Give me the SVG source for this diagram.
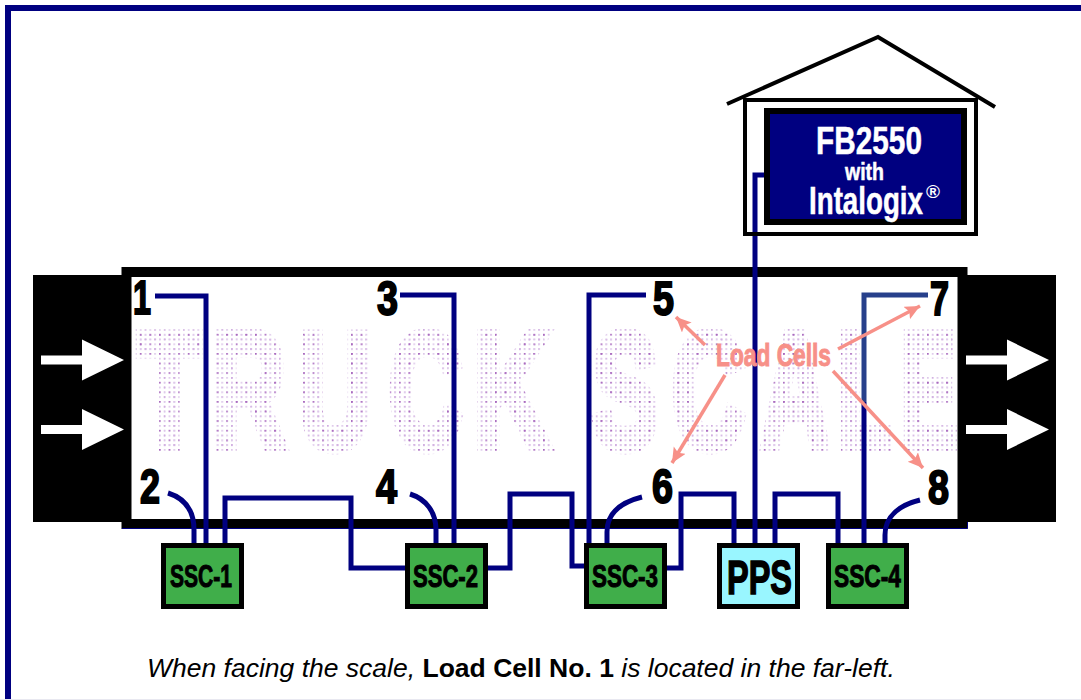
<svg xmlns="http://www.w3.org/2000/svg" width="1081" height="700" viewBox="0 0 1081 700">
<style>
.h{font-family:"Liberation Sans",Arial,sans-serif;font-weight:700}
.n{font-size:49px;fill:#000;stroke:#000;stroke-width:2px}
.s{font-size:31px;fill:#000;stroke:#000;stroke-width:1px;text-anchor:start}
.w{fill:#fff;stroke:#fff;stroke-width:.5px}
.box{fill:#40AE4A;stroke:#000;stroke-width:5}
.c{fill:none;stroke:#000080;stroke-width:5}
.a{fill:none;stroke:#F79088;stroke-width:3.500;marker-end:url(#ah)}
.ar{fill:#fff}
.tr{font-size:164px;fill:url(#dots);stroke:url(#dots);stroke-width:11px;stroke-linejoin:miter}
</style>
<defs>
<pattern id="dots" patternUnits="userSpaceOnUse" x="135" y="329" width="9.6" height="9.6">
<rect x="0" y="0" width="1.700" height="1.700" fill="#D0AEE0"/>
<rect x="4.8" y="0" width="1.700" height="1.700" fill="#DEC8EA"/>
<rect x="0" y="4.8" width="1.700" height="1.700" fill="#DEC8EA"/>
<rect x="4.8" y="4.8" width="1.700" height="1.700" fill="#A868BE"/>
</pattern>
<marker id="ah" markerUnits="userSpaceOnUse" markerWidth="18" markerHeight="16" refX="15" refY="7" orient="auto">
<path d="M0 0L15 7L0 14L3 7Z" fill="#F79088"/>
</marker>
<path id="arrow" d="M0 -4.5H41V-20.5L83 0L41 20.5V4.5H0Z"/>
</defs>
<rect width="1081" height="700" fill="#fff"/>
<rect x="0" y="699" width="1081" height="1" fill="#E8E8F0"/>
<path d="M8 699V8H1081" fill="none" stroke="#000080" stroke-width="6"/>

<g id="truck-scale">
<rect x="33" y="275" width="92" height="247" fill="#000"/>
<rect x="965" y="275" width="91" height="247" fill="#000"/>
<rect x="126.500" y="272" width="836" height="252" fill="#fff" stroke="#000" stroke-width="10"/>
<path d="M122 528.500H967.500V522" fill="none" stroke="#000080" stroke-width="1"/>
<g class="ar">
<use href="#arrow" x="41" y="360"/>
<use href="#arrow" x="41" y="429.500"/>
<use href="#arrow" x="966" y="360"/>
<use href="#arrow" x="966" y="429.500"/>
</g>
<text class="h tr" y="447"><tspan x="138" textLength="62" lengthAdjust="spacingAndGlyphs">T</tspan><tspan x="211" textLength="75" lengthAdjust="spacingAndGlyphs">R</tspan><tspan x="298" textLength="74" lengthAdjust="spacingAndGlyphs">U</tspan><tspan x="389" textLength="73" lengthAdjust="spacingAndGlyphs">C</tspan><tspan x="474" textLength="76" lengthAdjust="spacingAndGlyphs">K</tspan><tspan x="592" textLength="66" lengthAdjust="spacingAndGlyphs">S</tspan><tspan x="672" textLength="73" lengthAdjust="spacingAndGlyphs">C</tspan><tspan x="761" textLength="68" lengthAdjust="spacingAndGlyphs">A</tspan><tspan x="838" textLength="54" lengthAdjust="spacingAndGlyphs">L</tspan><tspan x="901" textLength="56" lengthAdjust="spacingAndGlyphs">E</tspan></text>
</g>

<g id="connectors">
<path class="c" d="M155 296H206V544"/>
<path class="c" d="M168 493C184 498 194 510 194 530V544"/>
<path class="c" d="M225 544V498H351V568H405"/>
<path class="c" d="M400 295H454V544"/>
<path class="c" d="M410 494C426 499 436 512 436 530V544"/>
<path class="c" d="M488 568H510V494H572V566H585"/>
<path class="c" d="M646 295H589V544"/>
<path class="c" d="M642 497C622 502 607 512 607 532V544"/>
<path class="c" d="M667 568H681V494H734V544"/>
<path class="c" d="M775 544V494H838V544"/>
<path class="c" d="M766 175H755V544"/>
<path class="c" d="M864 544V402"/>
<path class="c" style="stroke:#27408B" d="M928 295H864V402"/>
<path class="c" d="M920 500C900 505 885 516 885 535V544"/>
<path class="a" d="M705 345L676 317"/>
<path class="a" d="M725 375L672 463"/>
<path class="a" d="M838 349L920 306"/>
<path class="a" d="M833 371L923 468"/>
</g>

<g id="fb2550">
<path d="M727 104L878 37L995 107" fill="none" stroke="#000" stroke-width="4"/>
<rect x="745" y="100" width="231" height="134" fill="none" stroke="#000" stroke-width="4"/>
<rect x="767" y="111" width="197" height="111" fill="#000080" stroke="#000" stroke-width="6"/>
<text class="h w" x="816" y="154" font-size="39" textLength="106" lengthAdjust="spacingAndGlyphs">FB2550</text>
<text class="h w" x="845" y="180" font-size="23" textLength="39" lengthAdjust="spacingAndGlyphs">with</text>
<text class="h w" x="809" y="214" font-size="38" textLength="114" lengthAdjust="spacingAndGlyphs">Intalogix</text>
<text class="h" x="926" y="198" font-size="19" fill="#fff" font-weight="400">®</text>
</g>

<g id="ssc-1"><rect class="box" x="163.500" y="545.500" width="78" height="61"/><text class="h s" x="170" y="587" textLength="62" lengthAdjust="spacingAndGlyphs">SSC-1</text></g>
<g id="ssc-2"><rect class="box" x="407.500" y="545.500" width="78" height="61"/><text class="h s" x="413" y="587" textLength="65" lengthAdjust="spacingAndGlyphs">SSC-2</text></g>
<g id="ssc-3"><rect class="box" x="586.500" y="545.500" width="78" height="61"/><text class="h s" x="592" y="587" textLength="66" lengthAdjust="spacingAndGlyphs">SSC-3</text></g>
<g id="pps"><rect x="719.500" y="545.500" width="78" height="61" fill="#99F6FF" stroke="#000" stroke-width="5"/><text class="h" x="727" y="594" font-size="48" stroke="#000" stroke-width="1.500" textLength="65" lengthAdjust="spacingAndGlyphs">PPS</text></g>
<g id="ssc-4"><rect class="box" x="828.500" y="545.500" width="78" height="61"/><text class="h s" x="834" y="587" textLength="67" lengthAdjust="spacingAndGlyphs">SSC-4</text></g>

<g id="labels">
<text class="h n" x="133" y="314" textLength="18" lengthAdjust="spacingAndGlyphs">1</text>
<text class="h n" x="140" y="503" textLength="20" lengthAdjust="spacingAndGlyphs">2</text>
<text class="h n" x="377" y="315" textLength="21" lengthAdjust="spacingAndGlyphs">3</text>
<text class="h n" x="376" y="503" textLength="21" lengthAdjust="spacingAndGlyphs">4</text>
<text class="h n" x="653" y="315" textLength="21" lengthAdjust="spacingAndGlyphs">5</text>
<text class="h n" x="652" y="503" textLength="21" lengthAdjust="spacingAndGlyphs">6</text>
<text class="h n" x="930" y="315" textLength="19" lengthAdjust="spacingAndGlyphs">7</text>
<text class="h n" x="928" y="504" textLength="21" lengthAdjust="spacingAndGlyphs">8</text>
<text class="h" x="716" y="366" font-size="32" fill="#F79088" stroke="#F79088" stroke-width="1" textLength="115" lengthAdjust="spacingAndGlyphs">Load Cells</text>
<text x="147" y="677" font-family="'Liberation Sans',Arial,sans-serif" font-size="26.500" font-style="italic" fill="#000">When facing the scale, <tspan font-weight="700" font-style="normal">Load Cell No. 1</tspan> is located in the far-left.</text>
</g>
</svg>
